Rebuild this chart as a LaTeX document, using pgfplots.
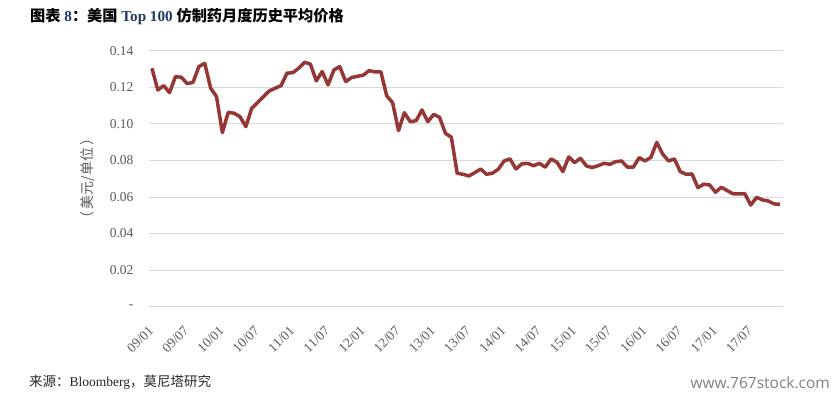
\documentclass[border=0pt]{standalone}
\usepackage{pgfplots}
\pgfplotsset{compat=1.18}
\usepackage{pgfplotstable}
\usepackage{fontspec}
\setmainfont{Liberation Serif}
\newfontfamily\cjk{Noto Sans CJK SC}
\newfontfamily\wm{Open Sans}
\definecolor{linered}{HTML}{953735}
\definecolor{gridgray}{HTML}{D9D9D9}
\definecolor{ticgray}{HTML}{595959}
\definecolor{navy}{HTML}{1F3864}
\definecolor{srcgray}{HTML}{262626}
\definecolor{wmgray}{HTML}{7F7F7F}

\pgfplotstableread{
i v
0 0.1304
1 0.1185
2 0.1209
3 0.1171
4 0.1258
5 0.1255
6 0.1220
7 0.1227
8 0.1313
9 0.1331
10 0.1195
11 0.1149
12 0.0952
13 0.1063
14 0.1058
15 0.1039
16 0.0985
17 0.1085
18 0.1116
19 0.1149
20 0.1180
21 0.1195
22 0.1209
23 0.1277
24 0.1280
25 0.1304
26 0.1337
27 0.1326
28 0.1235
29 0.1286
30 0.1213
31 0.1295
32 0.1313
33 0.1231
34 0.1253
35 0.1260
36 0.1266
37 0.1291
38 0.1284
39 0.1284
40 0.1153
41 0.1116
42 0.0963
43 0.1061
44 0.1012
45 0.1017
46 0.1076
47 0.1012
48 0.1052
49 0.1036
50 0.0948
51 0.0927
52 0.0730
53 0.0724
54 0.0715
55 0.0733
56 0.0753
57 0.0724
58 0.0730
59 0.0752
60 0.0797
61 0.0808
62 0.0753
63 0.0781
64 0.0784
65 0.0771
66 0.0784
67 0.0763
68 0.0808
69 0.0790
70 0.0739
71 0.0819
72 0.0788
73 0.0812
74 0.0770
75 0.0761
76 0.0771
77 0.0784
78 0.0779
79 0.0793
80 0.0797
81 0.0763
82 0.0763
83 0.0815
84 0.0797
85 0.0817
86 0.0899
87 0.0835
88 0.0797
89 0.0808
90 0.0739
91 0.0724
92 0.0726
93 0.0651
94 0.0670
95 0.0666
96 0.0626
97 0.0653
98 0.0635
99 0.0617
100 0.0617
101 0.0618
102 0.0556
103 0.0598
104 0.0584
105 0.0578
106 0.0562
107 0.0560
}\pricedata

\begin{document}
\begin{tikzpicture}
\useasboundingbox (0,0) rectangle (833pt,399pt);
\begin{axis}[
  at={(149pt,92.3pt)}, anchor=south west,
  scale only axis, width=634pt, height=256pt,
  xmin=-0.5, xmax=107.5, ymin=0, ymax=0.14,
  axis line style={draw=none},
  ymajorgrids, grid style={gridgray, line width=0.9pt},
  major tick length=0pt,
  xtick={0,6,12,18,24,30,36,42,48,54,60,66,72,78,84,90,96,102},
  xticklabels={09/01,09/07,10/01,10/07,11/01,11/07,12/01,12/07,13/01,13/07,14/01,14/07,15/01,15/07,16/01,16/07,17/01,17/07},
  ytick={0,0.02,0.04,0.06,0.08,0.10,0.12,0.14},
  yticklabels={-,0.02,0.04,0.06,0.08,0.10,0.12,0.14},
  tick label style={font=\fontsize{13.5}{13.5}\selectfont, text=ticgray},
  yticklabel style={xshift=-12pt},
  xticklabel style={xshift=0pt, yshift=-21pt, rotate=45, anchor=east, inner sep=1pt},
  every axis y label/.style={at={(axis description cs:-0.0962,0.5)}, anchor=center, rotate=90},
  ylabel={\cjk\fontsize{14}{14}\selectfont\color{ticgray}（\,美元/单位\,）},
  clip=false,
]
\addplot[color=linered, line width=3.5pt, line join=round, mark=none] table[x=i, y=v] {\pricedata};
\end{axis}
\node[anchor=west, inner sep=0] at (30pt,382pt) {\fontsize{15.2}{15.2}\selectfont{\cjk\bfseries 图表}~{\bfseries\color{navy}8}{\cjk\bfseries ：美国}~{\bfseries\color{navy}Top 100}~{\cjk\bfseries 仿制药月度历史平均价格}};
\node[anchor=west, inner sep=0, text=srcgray] at (29pt,17pt) {\fontsize{13.5}{13.5}\selectfont{\cjk 来源：}Bloomberg{\cjk ，莫尼塔研究}};
\node[anchor=east, inner sep=0, text=wmgray] at (830pt,16pt) {\wm\fontsize{15.5}{15.5}\selectfont www.767stock.com};
\end{tikzpicture}
\end{document}
